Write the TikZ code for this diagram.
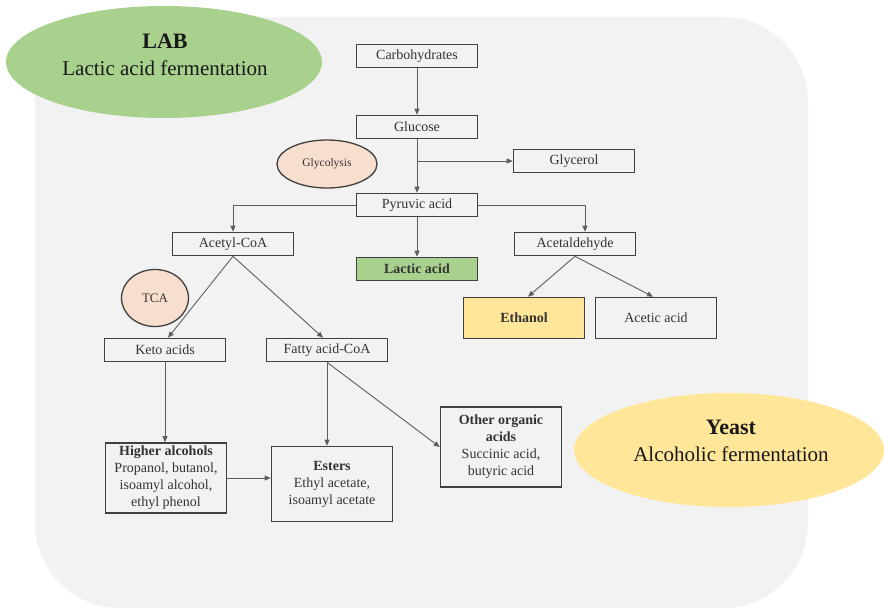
\documentclass[tikz,border=0pt]{standalone}
\usepackage{fontspec}
\setmainfont{Liberation Serif}
\usetikzlibrary{positioning,arrows.meta,shapes.geometric}
\definecolor{PanelGrey}{RGB}{242,242,242}
\definecolor{LabGreen}{RGB}{169,209,142}
\definecolor{YeastGold}{RGB}{255,230,153}
\definecolor{PathPeach}{RGB}{248,222,206}
\definecolor{EdgeGrey}{RGB}{64,64,64}
\definecolor{InkGrey}{RGB}{51,51,51}

\begin{document}
\begin{tikzpicture}[x=1pt,y=-1pt, every node/.style={font=\fontsize{14}{17}\selectfont, align=center, text=InkGrey},
  box/.style={draw=EdgeGrey, line width=1.6pt, fill=PanelGrey, minimum width=121pt,
        minimum height=23pt, inner sep=1pt},
  flow/.style={draw=EdgeGrey!85, line width=0.9pt, -{Triangle[length=6pt,width=5pt]}},
  blob/.style={ellipse, inner sep=0pt}]
  \useasboundingbox (0,0) rectangle (884,610);
  \fill[PanelGrey, rounded corners=85pt] (35,17) rectangle (808,608);

  \node[blob, fill=LabGreen, minimum width=316pt, minimum height=112pt] (lab) at (164,62) {};
  \node[font=\fontsize{21}{27}\selectfont, text=black!90] (labtext) at (165,55)
        {{\fontsize{22}{27}\selectfont\bfseries LAB}\\Lactic acid fermentation};
  \node[blob, fill=YeastGold, minimum width=310pt, minimum height=114pt] (yeast) at (729,450) {};
  \node[font=\fontsize{21}{27}\selectfont, text=black!90] (yeasttext) at (731,441)
        {{\fontsize{22}{27}\selectfont\bfseries Yeast}\\Alcoholic fermentation};

  \node[blob, draw=EdgeGrey, line width=1.3pt, fill=PathPeach, minimum width=100pt,
        minimum height=48pt, font=\fontsize{11.5}{14}\selectfont] (glyco) at (327,164) {Glycolysis};
  \node[blob, draw=EdgeGrey, line width=1.3pt, fill=PathPeach, minimum width=67pt,
        minimum height=57pt, font=\fontsize{13}{15}\selectfont] (tca) at (155,298) {TCA};

  \node[box] (carb) at (417,56) {Carbohydrates};
  \node[box] (gluc) at (417,127) {Glucose};
  \node[box] (glyc) at (574,161) {Glycerol};
  \node[box] (pyr) at (417,205) {Pyruvic acid};
  \node[box] (acoa) at (233,244) {Acetyl-CoA};
  \node[box, fill=LabGreen, font=\fontsize{14}{17}\selectfont\bfseries] (lact) at (417,269) {Lactic acid};
  \node[box] (acet) at (575,244) {Acetaldehyde};
  \node[box, fill=YeastGold, minimum height=41pt, font=\fontsize{14}{17}\selectfont\bfseries] (eth) at (524,318) {Ethanol};
  \node[box, minimum height=41pt] (acac) at (656,318) {Acetic acid};
  \node[box] (keto) at (165,350) {Keto acids};
  \node[box] (fcoa) at (327,350) {Fatty acid-CoA};
  \node[box, minimum height=70pt] (halc) at (166,478)
        {\textbf{Higher alcohols}\\Propanol, butanol,\\isoamyl alcohol,\\ethyl phenol};
  \node[box, minimum height=75pt] (est) at (332,484)
        {\textbf{Esters}\\Ethyl acetate,\\isoamyl acetate};
  \node[box, minimum height=80pt] (orga) at (501,447)
        {\textbf{Other organic}\\\textbf{acids}\\Succinic acid,\\butyric acid};

  \coordinate (gsplit) at (417,161);
  \draw[flow] (carb) -- (gluc);
  \draw[flow] (gluc) -- (pyr);
  \draw[flow] (gsplit) -- (glyc);
  \draw[flow] (pyr.west) -| (acoa.north);
  \draw[flow] (pyr.east) -| ([xshift=10pt]acet.north);
  \draw[flow] (pyr) -- (lact);
  \draw[flow] (acet.south) -- ([xshift=4pt]eth.north);
  \draw[flow] (acet.south) -- ([xshift=-3pt]acac.north);
  \draw[flow] (acoa.south) -- ([xshift=3pt]keto.north);
  \draw[flow] (acoa.south) -- ([xshift=-4pt]fcoa.north);
  \draw[flow] (keto.south) -- (keto.south |- halc.north);
  \draw[flow] (fcoa.south) -- (fcoa.south |- est.north);
  \draw[flow] (fcoa.south) -- (orga.west);
  \draw[flow] (halc.east) -- (halc.east -| est.west);
\end{tikzpicture}
\end{document}
